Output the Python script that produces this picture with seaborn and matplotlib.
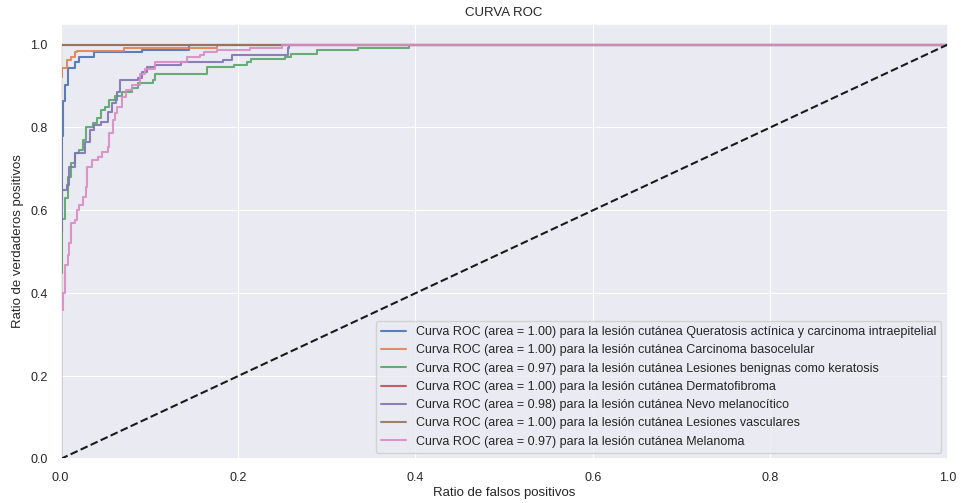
import pandas as pd
import seaborn as sns
import matplotlib.pyplot as plt

sns.set_theme(style='darkgrid', rc={'grid.linewidth': 0.8})
plt.rcParams['font.family'] = ['Liberation Sans', 'DejaVu Sans']

# -------------------------------
# datos de la curva ROC
# -------------------------------
clases = ['Queratosis actínica y carcinoma intraepitelial', 'Carcinoma basocelular',
          'Lesiones benignas como keratosis', 'Dermatofibroma', 'Nevo melanocítico',
          'Lesiones vasculares', 'Melanoma']
areas = [1.00, 1.00, 0.97, 1.00, 0.98, 1.00, 0.97]

fpr_0 = [0, 0, 0.001, 0.002, 0.003, 0.005, 0.008, 0.016, 0.021, 0.038, 0.092, 0.145, 1.0]
tpr_0 = [0, 0.5, 0.63, 0.78, 0.863, 0.903, 0.944, 0.959, 0.971, 0.981, 0.988, 1.0, 1.0]

fpr_1 = [0, 0, 0.001, 0.002, 0.007, 0.012, 0.016, 0.019, 0.072, 0.176, 1.0]
tpr_1 = [0, 0.68, 0.923, 0.944, 0.964, 0.969, 0.981, 0.985, 0.993, 1.0, 1.0]

fpr_2 = [0, 0, 0.001, 0.002, 0.005, 0.008, 0.012, 0.016, 0.021, 0.025, 0.029, 0.036, 0.041,
         0.046, 0.050, 0.055, 0.061, 0.069, 0.080, 0.087, 0.104, 0.106, 0.165, 0.196, 0.210,
         0.215, 0.253, 0.260, 0.289, 0.335, 0.393, 1.0]
tpr_2 = [0, 0.10, 0.45, 0.58, 0.63, 0.68, 0.715, 0.739, 0.746, 0.771, 0.802, 0.81, 0.824,
         0.843, 0.85, 0.867, 0.875, 0.886, 0.896, 0.908, 0.915, 0.928, 0.947, 0.952, 0.959,
         0.966, 0.971, 0.978, 0.986, 0.993, 1.0, 1.0]

fpr_3 = [0, 0, 1.0]
tpr_3 = [0, 1.0, 1.0]

fpr_4 = [0, 0, 0.001, 0.002, 0.007, 0.010, 0.016, 0.027, 0.033, 0.038, 0.046, 0.053, 0.058,
         0.063, 0.064, 0.067, 0.087, 0.092, 0.097, 0.106, 0.136, 0.183, 0.193, 0.256, 0.258, 1.0]
tpr_4 = [0, 0.45, 0.55, 0.65, 0.662, 0.705, 0.739, 0.766, 0.795, 0.807, 0.814, 0.838, 0.86,
         0.867, 0.886, 0.915, 0.92, 0.935, 0.947, 0.952, 0.959, 0.964, 0.976, 0.993, 1.0, 1.0]

fpr_5 = [0, 0, 1.0]
tpr_5 = [0, 1.0, 1.0]

fpr_6 = [0, 0, 0.001, 0.003, 0.005, 0.008, 0.010, 0.012, 0.016, 0.018, 0.021, 0.025, 0.029,
         0.030, 0.035, 0.042, 0.047, 0.053, 0.055, 0.059, 0.061, 0.064, 0.069, 0.074, 0.081,
         0.089, 0.095, 0.106, 0.134, 0.143, 0.157, 0.162, 0.176, 0.213, 0.250, 0.255, 1.0]
tpr_6 = [0, 0.14, 0.36, 0.40, 0.469, 0.493, 0.522, 0.57, 0.577, 0.60, 0.614, 0.633, 0.657,
         0.705, 0.722, 0.729, 0.742, 0.754, 0.787, 0.819, 0.836, 0.85, 0.874, 0.891, 0.903,
         0.928, 0.94, 0.957, 0.959, 0.969, 0.976, 0.983, 0.988, 0.993, 0.998, 1.0, 1.0]

fprs = [fpr_0, fpr_1, fpr_2, fpr_3, fpr_4, fpr_5, fpr_6]
tprs = [tpr_0, tpr_1, tpr_2, tpr_3, tpr_4, tpr_5, tpr_6]

# -------------------------------
# gráfico
# -------------------------------
fig = plt.figure(figsize=(9.62, 5.03), dpi=100)
ax = fig.add_axes([0.063, 0.0875, 0.922, 0.865])
colores = sns.color_palette('deep', 7)

for i in range(len(clases)):
    df = pd.DataFrame({'fpr': fprs[i], 'tpr': tprs[i]})
    sns.lineplot(data=df, x='fpr', y='tpr', ax=ax, sort=False, estimator=None,
                 drawstyle='steps-post', color=colores[i], linewidth=1.5, alpha=0.9,
                 label=f'Curva ROC (area = {areas[i]:.2f}) para la lesión cutánea {clases[i]}')

diag = pd.DataFrame({'x': [0, 1], 'y': [0, 1]})
sns.lineplot(data=diag, x='x', y='y', ax=ax, color='k', linestyle='--', linewidth=1.5)

ax.set_xlim(0.0, 1.0)
ax.set_ylim(0.0, 1.05)
ax.tick_params(labelsize=9)
ax.set_xlabel('Ratio de falsos positivos', fontsize=9.5, labelpad=2)
ax.set_ylabel('Ratio de verdaderos positivos', fontsize=9.5)
ax.set_title('CURVA ROC', fontsize=9.5)
ax.legend(loc='lower right', fontsize=9)

plt.savefig('out.png', dpi=100)
